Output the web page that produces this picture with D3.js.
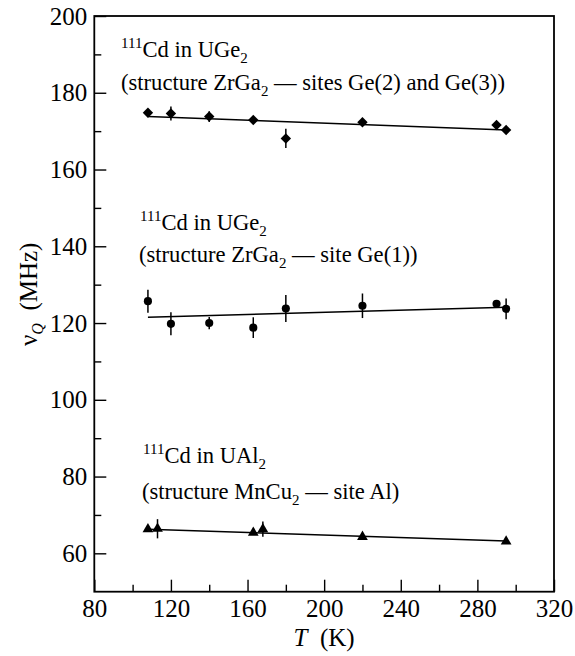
<!DOCTYPE html>
<html>
<head>
<meta charset="utf-8">
<script src="https://cdn.jsdelivr.net/npm/d3@7"></script>
</head>
<body style="margin:0; font-family:'Liberation Serif'">
<div id="chart"></div>
<script>
const W = 575, H = 656;
const MARGIN = { LEFT: 94.3, RIGHT: 21, TOP: 16, BOTTOM: 64.3 };
const WIDTH = W - MARGIN.LEFT - MARGIN.RIGHT;
const HEIGHT = H - MARGIN.TOP - MARGIN.BOTTOM;
const FONT = "Liberation Serif";

// UGe2, sites Ge(2) and Ge(3) - diamonds
const temp1 = [108, 120, 140, 163, 180, 220, 290, 295];
const nuq1  = [174.8, 174.6, 173.8, 172.9, 168.1, 172.3, 171.6, 170.3];
const err1  = [0.8, 1.8, 1.4, 0.8, 2.5, 0.8, 0.8, 0.8];
const fit1  = [[108, 173.8], [295, 170.3]];

// UGe2, site Ge(1) - circles
const temp2 = [108, 120, 140, 163, 180, 220, 290, 295];
const nuq2  = [125.7, 119.8, 120.0, 118.8, 123.8, 124.5, 125.0, 123.7];
const err2  = [3.0, 3.0, 1.6, 2.7, 3.5, 3.2, 1.0, 2.7];
const fit2  = [[108, 121.5], [295, 124.1]];

// UAl2, site Al - triangles
const temp3 = [108, 113, 163, 168, 220, 295];
const nuq3  = [66.3, 66.4, 65.4, 66.3, 64.3, 63.1];
const err3  = [0.5, 2.5, 0.5, 2.0, 0.5, 0.5];
const fit3  = [[108, 66.3], [295, 63.2]];

const xMajor = [80, 120, 160, 200, 240, 280, 320];
const xMinor = [100, 140, 180, 220, 260, 300];
const yMajor = [60, 80, 100, 120, 140, 160, 180, 200];
const yMinor = [70, 90, 110, 130, 150, 170, 190];

const svg = d3.select("#chart").append("svg")
  .attr("width", W).attr("height", H)
  .attr("font-family", FONT);
const g = svg.append("g")
  .attr("transform", `translate(${MARGIN.LEFT}, ${MARGIN.TOP})`);

const x = d3.scaleLinear().domain([80, 320]).range([0, WIDTH]);
const y = d3.scaleLinear().domain([50, 200]).range([HEIGHT, 0]);

// axes, ticks pointing inward
function styleAxis(sel) {
  sel.attr("font-family", FONT).attr("font-size", 25);
  sel.select(".domain").remove();
  sel.selectAll("line").attr("stroke", "#000").attr("stroke-width", 1.4);
  sel.selectAll("text").attr("font-family", FONT).attr("font-size", 25).attr("fill", "#000");
}
g.append("g").attr("transform", `translate(0, ${HEIGHT})`)
  .call(d3.axisBottom(x).tickValues(xMajor).tickSize(-12).tickFormat(d3.format("d")))
  .call(styleAxis)
  .call(s => s.selectAll("text").attr("dy", "0.71em").attr("y", 8));
g.append("g").attr("transform", `translate(0, ${HEIGHT})`)
  .call(d3.axisBottom(x).tickValues(xMinor).tickSize(-7).tickFormat(""))
  .call(styleAxis);
g.append("g")
  .call(d3.axisLeft(y).tickValues(yMajor).tickSize(-12).tickFormat(d3.format("d")))
  .call(styleAxis)
  .call(s => s.selectAll("text").attr("x", -7));
g.append("g")
  .call(d3.axisLeft(y).tickValues(yMinor).tickSize(-7).tickFormat(""))
  .call(styleAxis);

// frame
g.append("rect").attr("x", 0).attr("y", 0).attr("width", WIDTH).attr("height", HEIGHT)
  .attr("fill", "none").attr("stroke", "#000").attr("stroke-width", 1.8);

const line = d3.line().x(d => x(d[0])).y(d => y(d[1]));
[fit1, fit2, fit3].forEach(f => {
  g.append("path").datum(f).attr("d", line)
    .attr("fill", "none").attr("stroke", "#000").attr("stroke-width", 1.5);
});

// squarish diamond, a bit wider than d3.symbolDiamond
const diamond = {
  draw(ctx, size) {
    const r = Math.sqrt(size / 2);
    ctx.moveTo(0, -r); ctx.lineTo(r, 0); ctx.lineTo(0, r); ctx.lineTo(-r, 0); ctx.closePath();
  }
};

function drawSeries(temps, vals, errs, symbolType, size) {
  const pts = temps.map((t, i) => ({ t: t, v: vals[i], e: errs[i] }));
  g.append("g").selectAll("line").data(pts).enter().append("line")
    .attr("x1", d => x(d.t)).attr("x2", d => x(d.t))
    .attr("y1", d => y(d.v - d.e)).attr("y2", d => y(d.v + d.e))
    .attr("stroke", "#000").attr("stroke-width", 1.5);
  g.append("g").selectAll("path").data(pts).enter().append("path")
    .attr("transform", d => `translate(${x(d.t)}, ${y(d.v)})`)
    .attr("d", d3.symbol().type(symbolType).size(size))
    .attr("fill", "#000");
}
drawSeries(temp1, nuq1, err1, diamond, 54);
drawSeries(temp2, nuq2, err2, d3.symbolCircle, 52);
drawSeries(temp3, nuq3, err3, d3.symbolTriangle, 50);

// annotations
function label(xp, yp, parts) {
  const t = svg.append("text").attr("x", xp).attr("y", yp)
    .attr("font-size", 22.6).attr("font-family", FONT);
  parts.forEach(p => {
    const ts = t.append("tspan").attr("font-family", FONT).text(p[0]);
    if (p[1] === "sup") ts.attr("font-size", 15).attr("dy", -9);
    else if (p[1] === "sub") ts.attr("font-size", 15).attr("dy", 6);
    else if (p[1] === "back") ts.attr("dy", -6);
    else if (p[1] === "down") ts.attr("dy", 9);
  });
}
label(121, 57, [["111", "sup"], ["Cd in UGe", "down"], ["2", "sub"]]);
label(121, 90, [["(structure ZrGa"], ["2", "sub"], [" \u2014 sites Ge(2) and Ge(3))", "back"]]);
label(140, 230, [["111", "sup"], ["Cd in UGe", "down"], ["2", "sub"]]);
label(139, 262, [["(structure ZrGa"], ["2", "sub"], [" \u2014 site Ge(1))", "back"]]);
label(143, 463, [["111", "sup"], ["Cd in UAl", "down"], ["2", "sub"]]);
label(142, 499, [["(structure MnCu"], ["2", "sub"], [" \u2014 site Al)", "back"]]);

// axis titles
const xt = svg.append("text").attr("x", MARGIN.LEFT + x(200)).attr("y", 646)
  .attr("text-anchor", "middle").attr("font-size", 25).attr("font-family", FONT);
xt.append("tspan").text("T").attr("font-style", "italic");
xt.append("tspan").text("\u2002(K)");

const yt = svg.append("text")
  .attr("transform", `translate(37, ${MARGIN.TOP + y(127.5)}) rotate(-90)`)
  .attr("text-anchor", "middle").attr("font-size", 25).attr("font-family", FONT);
yt.append("tspan").text("\u03bd");
yt.append("tspan").text("Q").attr("font-style", "italic").attr("font-size", 16).attr("dy", 6);
yt.append("tspan").text("\u2002(MHz)").attr("dy", -6);
</script>
</body>
</html>
